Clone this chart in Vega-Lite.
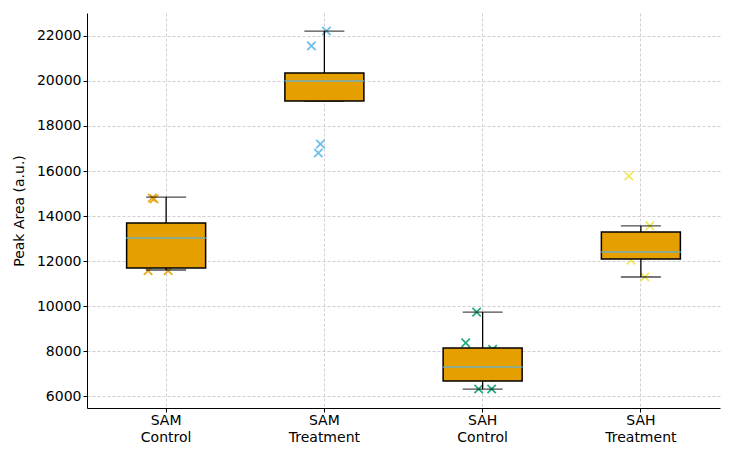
{
  "$schema": "https://vega.github.io/schema/vega-lite/v6.json",
  "description": "Peak area boxplots for SAM / SAH control and treatment groups, with the individual replicates",
  "autosize": {"type": "none"},
  "padding": {"left": 87, "top": 13, "right": 14, "bottom": 51},
  "width": 633,
  "height": 395,
  "config": {
    "view": {"stroke": null},
    "font": "DejaVu Sans",
    "axis": {
      "labelFont": "DejaVu Sans",
      "titleFont": "DejaVu Sans",
      "labelFontSize": 14,
      "titleFontSize": 14,
      "titleFontWeight": "normal",
      "labelColor": "#000000",
      "titleColor": "#000000",
      "domainColor": "#000000",
      "domainWidth": 1,
      "tickColor": "#000000",
      "tickSize": 4,
      "gridColor": "#c4c4c4",
      "gridDash": [3, 2],
      "gridWidth": 0.8
    }
  },
  "datasets": {
    "boxes": [
      {"group": "SAM Control", "lo": 11600, "q1": 11690, "median": 13020, "q3": 13690, "hi": 14840},
      {"group": "SAM Treatment", "lo": 19110, "q1": 19110, "median": 20000, "q3": 20360, "hi": 22220},
      {"group": "SAH Control", "lo": 6310, "q1": 6670, "median": 7290, "q3": 8130, "hi": 9730},
      {"group": "SAH Treatment", "lo": 11290, "q1": 12090, "median": 12400, "q3": 13290, "hi": 13560}
    ],
    "points": [
      {"group": "SAM Control", "value": 14800, "jitter": -0.088},
      {"group": "SAM Control", "value": 14760, "jitter": -0.076},
      {"group": "SAM Control", "value": 11570, "jitter": -0.114},
      {"group": "SAM Control", "value": 11570, "jitter": 0.013},
      {"group": "SAM Treatment", "value": 22220, "jitter": 0.013},
      {"group": "SAM Treatment", "value": 21560, "jitter": -0.082},
      {"group": "SAM Treatment", "value": 17200, "jitter": -0.025},
      {"group": "SAM Treatment", "value": 16800, "jitter": -0.038},
      {"group": "SAH Control", "value": 9730, "jitter": -0.038},
      {"group": "SAH Control", "value": 8360, "jitter": -0.107},
      {"group": "SAH Control", "value": 8080, "jitter": 0.063},
      {"group": "SAH Control", "value": 6850, "jitter": 0.038},
      {"group": "SAH Control", "value": 6310, "jitter": -0.025},
      {"group": "SAH Control", "value": 6310, "jitter": 0.057},
      {"group": "SAH Treatment", "value": 15780, "jitter": -0.076},
      {"group": "SAH Treatment", "value": 13560, "jitter": 0.057},
      {"group": "SAH Treatment", "value": 12040, "jitter": -0.063},
      {"group": "SAH Treatment", "value": 11290, "jitter": 0.025}
    ]
  },
  "resolve": {"scale": {"x": "independent"}},
  "layer": [
    {
      "description": "replicates, drawn under the boxes",
      "data": {"name": "points"},
      "mark": {
        "type": "point",
        "shape": "M-1,-1L1,1M1,-1L-1,1",
        "filled": false,
        "strokeWidth": 1.8,
        "size": 70,
        "opacity": 0.85
      },
      "encoding": {
        "x": {
          "field": "group",
          "type": "nominal",
          "sort": ["SAM Control", "SAM Treatment", "SAH Control", "SAH Treatment"],
          "scale": {"paddingInner": 0, "paddingOuter": 0},
          "axis": null
        },
        "xOffset": {"field": "jitter", "type": "quantitative", "scale": {"domain": [-0.5, 0.5]}},
        "y": {
          "field": "value",
          "type": "quantitative",
          "title": "Peak Area (a.u.)",
          "scale": {"domain": [5467, 23022], "nice": false, "zero": false},
          "axis": {"values": [6000, 8000, 10000, 12000, 14000, 16000, 18000, 20000, 22000], "format": "d", "labelPadding": 2, "titlePadding": 10, "grid": true}
        },
        "color": {
          "field": "group",
          "type": "nominal",
          "scale": {
            "domain": ["SAM Control", "SAM Treatment", "SAH Control", "SAH Treatment"],
            "range": ["#E69F00", "#56B4E9", "#009E73", "#F0E442"]
          },
          "legend": null
        }
      }
    },
    {
      "data": {"name": "boxes"},
      "encoding": {
        "x": {
          "field": "group",
          "type": "nominal",
          "sort": ["SAM Control", "SAM Treatment", "SAH Control", "SAH Treatment"],
          "scale": {"paddingInner": 0, "paddingOuter": 0},
          "axis": {
            "title": null,
            "labelAngle": 0,
            "labelExpr": "split(datum.label, ' ')",
            "labelPadding": 1,
            "labelLineHeight": 17,
            "bandPosition": 0.5,
            "grid": true
          }
        }
      },
      "layer": [
        {
          "description": "whisker",
          "mark": {"type": "rule", "color": "black", "strokeWidth": 1.3},
          "encoding": {
            "y": {"field": "lo", "type": "quantitative"},
            "y2": {"field": "hi"}
          }
        },
        {
          "description": "lower cap",
          "mark": {"type": "tick", "orient": "horizontal", "color": "black", "size": 40, "thickness": 1.3},
          "encoding": {"y": {"field": "lo", "type": "quantitative"}}
        },
        {
          "description": "upper cap",
          "mark": {"type": "tick", "orient": "horizontal", "color": "black", "size": 40, "thickness": 1.3},
          "encoding": {"y": {"field": "hi", "type": "quantitative"}}
        },
        {
          "description": "box",
          "mark": {"type": "bar", "size": 79, "fill": "#E69F00", "stroke": "black", "strokeWidth": 1.5},
          "encoding": {
            "y": {"field": "q1", "type": "quantitative"},
            "y2": {"field": "q3"}
          }
        },
        {
          "description": "median",
          "mark": {"type": "tick", "orient": "horizontal", "color": "#56B4E9", "opacity": 0.6, "size": 80, "thickness": 2},
          "encoding": {"y": {"field": "median", "type": "quantitative"}}
        }
      ]
    }
  ]
}
